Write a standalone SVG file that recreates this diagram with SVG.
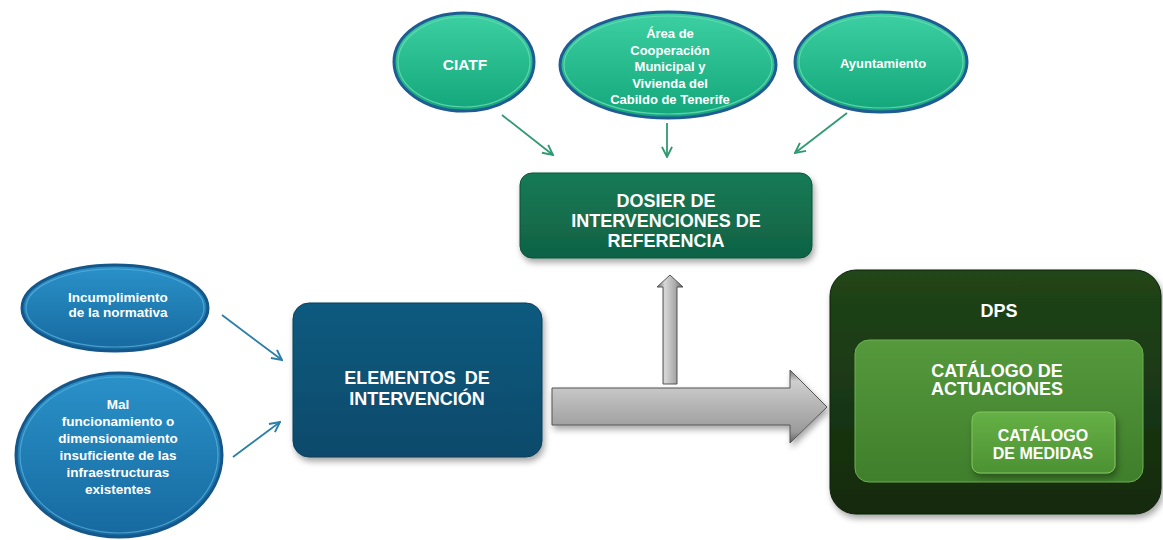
<svg xmlns="http://www.w3.org/2000/svg" width="1163" height="540" viewBox="0 0 1163 540">
<style>
.t{font-family:"Liberation Sans",Arial,sans-serif;font-weight:bold;fill:#ffffff;text-anchor:middle}
.s13{font-size:13px}
.s135{font-size:13.5px}
.s16{font-size:16px}
.s18{font-size:18px}
.teal{fill:url(#gTeal);stroke:#1f5c94;stroke-width:3}
.tealin{fill:none;stroke:#6fdcb8;stroke-width:1.2;opacity:0.8}
.blue{fill:url(#gBlue);stroke:#15578a;stroke-width:3}
.bluein{fill:none;stroke:#5fb4e0;stroke-width:1.2;opacity:0.7}
.cg{stroke:#2f9a72;stroke-width:1.8;fill:none}
.cb{stroke:#2a7ea8;stroke-width:1.8;fill:none}
.gray{stroke:#555;stroke-width:1}
</style>
<defs>
<linearGradient id="gTeal" x1="0" y1="0" x2="0" y2="1">
<stop offset="0" stop-color="#3dd0a2"/><stop offset="1" stop-color="#13a67a"/>
</linearGradient>
<linearGradient id="gBlue" x1="0" y1="0" x2="0" y2="1">
<stop offset="0" stop-color="#2a92c9"/><stop offset="1" stop-color="#16699f"/>
</linearGradient>
<linearGradient id="gElem" x1="0" y1="0" x2="0" y2="1">
<stop offset="0" stop-color="#0f5a7f"/><stop offset="1" stop-color="#0a4a6b"/>
</linearGradient>
<linearGradient id="gDos" x1="0" y1="0" x2="0" y2="1">
<stop offset="0" stop-color="#187a56"/><stop offset="1" stop-color="#0f6244"/>
</linearGradient>
<linearGradient id="gDps" x1="0" y1="0" x2="0" y2="1">
<stop offset="0" stop-color="#21451a"/><stop offset="1" stop-color="#122a0d"/>
</linearGradient>
<linearGradient id="gAct" x1="0" y1="0" x2="0" y2="1">
<stop offset="0" stop-color="#55993c"/><stop offset="1" stop-color="#3f7e2b"/>
</linearGradient>
<linearGradient id="gMed" x1="0" y1="0" x2="0" y2="1">
<stop offset="0" stop-color="#66b046"/><stop offset="1" stop-color="#4c9233"/>
</linearGradient>
<linearGradient id="gArrH" x1="0" y1="0" x2="0" y2="1">
<stop offset="0" stop-color="#707070"/><stop offset="0.15" stop-color="#cfcfcf"/><stop offset="0.5" stop-color="#b4b4b4"/><stop offset="0.85" stop-color="#9a9a9a"/><stop offset="1" stop-color="#606060"/>
</linearGradient>
<linearGradient id="gArrV" x1="0" y1="0" x2="1" y2="0">
<stop offset="0" stop-color="#6a6a6a"/><stop offset="0.3" stop-color="#d8d8d8"/><stop offset="0.7" stop-color="#aaaaaa"/><stop offset="1" stop-color="#5e5e5e"/>
</linearGradient>
<filter id="sh" x="-10%" y="-10%" width="125%" height="130%">
<feDropShadow dx="2" dy="4" stdDeviation="3" flood-color="#000" flood-opacity="0.35"/>
</filter>
<marker id="mg" viewBox="0 0 10 10" refX="9" refY="5" markerWidth="7" markerHeight="7" orient="auto">
<path d="M1,1 L9,5 L1,9" fill="none" stroke="#2f9a72" stroke-width="1.5"/>
</marker>
<marker id="mb" viewBox="0 0 10 10" refX="9" refY="5" markerWidth="7" markerHeight="7" orient="auto">
<path d="M1,1 L9,5 L1,9" fill="none" stroke="#2a7ea8" stroke-width="1.5"/>
</marker>
</defs>
<rect width="1163" height="540" fill="#ffffff"/>

<g id="connectors">
<line class="cg" x1="502" y1="115" x2="553" y2="155" marker-end="url(#mg)"/>
<line class="cg" x1="667" y1="123" x2="667" y2="157" marker-end="url(#mg)"/>
<line class="cg" x1="847" y1="113" x2="795" y2="153" marker-end="url(#mg)"/>
<line class="cb" x1="222" y1="315" x2="282" y2="360" marker-end="url(#mb)"/>
<line class="cb" x1="233" y1="457" x2="280" y2="422" marker-end="url(#mb)"/>
<polygon class="gray" fill="url(#gArrH)" points="552,388 790,388 790,370 827,407 790,443 790,425 552,425" filter="url(#sh)"/>
<polygon class="gray" fill="url(#gArrV)" points="663,384 663,287 657,287 670,275 683,287 677,287 677,384"/>
</g>

<g id="ciatf">
<ellipse class="teal" cx="464" cy="62" rx="70" ry="49"/>
<ellipse class="tealin" cx="464" cy="62" rx="66" ry="45"/>
<text class="t" x="465" y="70" style="font-size:15.5px">CIATF</text>
</g>

<g id="area">
<ellipse class="teal" cx="668" cy="65" rx="108" ry="53"/>
<ellipse class="tealin" cx="668" cy="65" rx="104" ry="49"/>
<text class="t s13" x="670" y="37.5">Área de</text>
<text class="t s13" x="670" y="54.5">Cooperación</text>
<text class="t s13" x="670" y="71">Municipal y</text>
<text class="t s13" x="670" y="87.5">Vivienda del</text>
<text class="t s13" x="670" y="104">Cabildo de Tenerife</text>
</g>

<g id="ayuntamiento">
<ellipse class="teal" cx="881" cy="62" rx="86" ry="50"/>
<ellipse class="tealin" cx="881" cy="62" rx="82" ry="46"/>
<text class="t s13" x="883" y="67.5">Ayuntamiento</text>
</g>

<g id="dosier">
<rect x="520" y="173" width="292" height="85" rx="12" fill="url(#gDos)" stroke="#0c5238" stroke-width="1" filter="url(#sh)"/>
<text class="t s18" x="666" y="206.5">DOSIER DE</text>
<text class="t s18" x="666" y="226.5">INTERVENCIONES DE</text>
<text class="t s18" x="666" y="246.5">REFERENCIA</text>
</g>

<g id="incumplimiento">
<ellipse class="blue" cx="115" cy="308" rx="93" ry="43"/>
<ellipse class="bluein" cx="115" cy="308" rx="89" ry="39"/>
<text class="t s135" x="118" y="301.5">Incumplimiento</text>
<text class="t s135" x="118" y="317">de la normativa</text>
</g>

<g id="mal">
<ellipse class="blue" cx="119" cy="455" rx="103" ry="82"/>
<ellipse class="bluein" cx="119" cy="455" rx="99" ry="78"/>
<text class="t s135" x="118" y="408.5">Mal</text>
<text class="t s135" x="118" y="425.5">funcionamiento o</text>
<text class="t s135" x="118" y="442.5">dimensionamiento</text>
<text class="t s135" x="118" y="459.5">insuficiente de las</text>
<text class="t s135" x="118" y="476.5">infraestructuras</text>
<text class="t s135" x="118" y="493.5">existentes</text>
</g>

<g id="elementos">
<rect x="293" y="303" width="249" height="154" rx="16" fill="url(#gElem)" stroke="#083d58" stroke-width="1" filter="url(#sh)"/>
<text class="t s18" x="417" y="383.5" style="word-spacing:4px">ELEMENTOS DE</text>
<text class="t s18" x="417" y="404.5">INTERVENCIÓN</text>
</g>

<g id="dps">
<rect x="830" y="270" width="331" height="244" rx="26" fill="url(#gDps)" stroke="#0c1f08" stroke-width="1" filter="url(#sh)"/>
<text class="t s18" x="999" y="316.5">DPS</text>
</g>

<g id="catalogo-actuaciones">
<rect x="855" y="340" width="288" height="142" rx="14" fill="url(#gAct)" stroke="#6fb055" stroke-width="1"/>
<text class="t s18" x="997" y="376.5">CATÁLOGO DE</text>
<text class="t s18" x="997" y="395">ACTUACIONES</text>
</g>

<g id="catalogo-medidas">
<rect x="972" y="412" width="143" height="61" rx="8" fill="url(#gMed)" stroke="#80c460" stroke-width="1" filter="url(#sh)"/>
<text class="t s16" x="1043" y="441">CATÁLOGO</text>
<text class="t s16" x="1043" y="459">DE MEDIDAS</text>
</g>
</svg>
